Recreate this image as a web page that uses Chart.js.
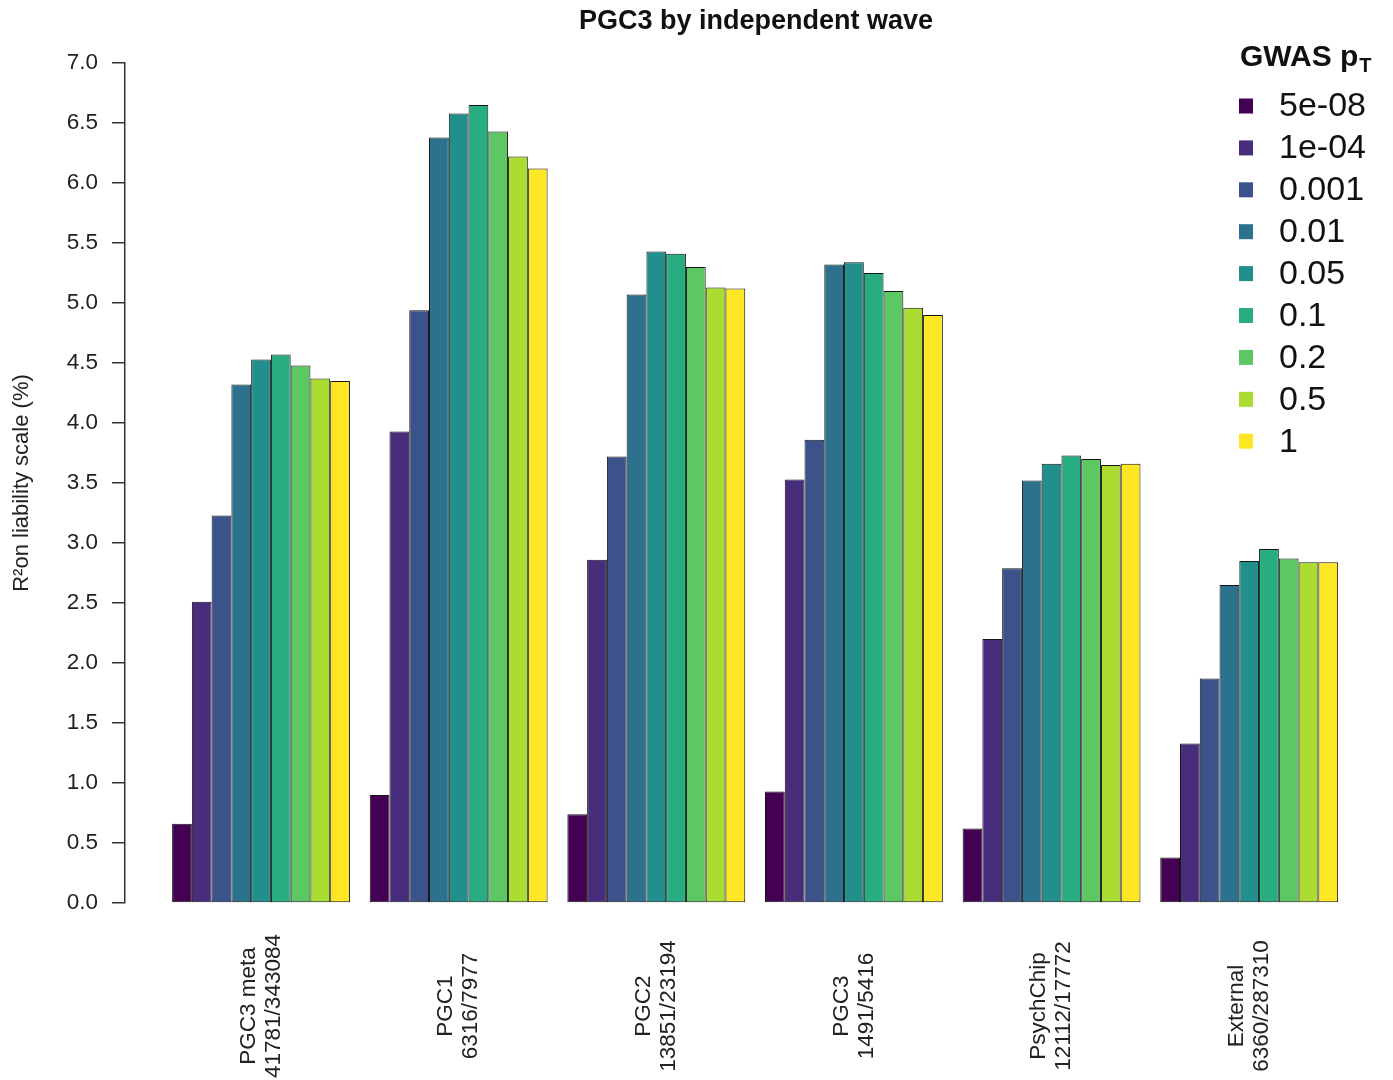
<!DOCTYPE html>
<html>
<head>
<meta charset="utf-8">
<script src="https://cdn.jsdelivr.net/npm/chart.js@4.4.1/dist/chart.umd.min.js"></script>
<style>
    html, body { margin: 0; padding: 0; background: #fff; }
    #wrap { width: 1393px; height: 1080px; }
</style>
</head>
<body>
<div id="wrap"><canvas id="waveChart" width="1393" height="1080"></canvas></div>
<script>
// waves (two label lines each: name, cases/controls)
var wave_names = ['PGC3 meta', 'PGC1', 'PGC2', 'PGC3', 'PsychChip', 'External'];
var wave_counts = ['41781/343084', '6316/7977', '13851/23194', '1491/5416', '12112/17772', '6360/287310'];

// GWAS p-value thresholds and their colours
var thresholds = ['5e-08', '1e-04', '0.001', '0.01', '0.05', '0.1', '0.2', '0.5', '1'];
var colors = ['#440154', '#472D7B', '#3B528B', '#2C728E', '#21908C', '#27AD81', '#5DC863', '#AADC32', '#FDE725'];

// R2 on liability scale (%), one array per threshold, in wave order
var r2_5e08 = [0.66, 0.90, 0.74, 0.93, 0.62, 0.38];
var r2_1e04 = [2.51, 3.93, 2.86, 3.53, 2.20, 1.33];
var r2_0001 = [3.23, 4.94, 3.72, 3.86, 2.79, 1.87];
var r2_001  = [4.32, 6.38, 5.07, 5.32, 3.52, 2.65];
var r2_005  = [4.53, 6.58, 5.43, 5.34, 3.66, 2.85];
var r2_01   = [4.57, 6.65, 5.41, 5.25, 3.73, 2.95];
var r2_02   = [4.48, 6.43, 5.30, 5.10, 3.70, 2.87];
var r2_05   = [4.37, 6.22, 5.13, 4.96, 3.65, 2.84];
var r2_1    = [4.35, 6.12, 5.12, 4.90, 3.66, 2.84];

var series = [r2_5e08, r2_1e04, r2_0001, r2_001, r2_005, r2_01, r2_02, r2_05, r2_1];

var y_ticks = [0, 0.5, 1, 1.5, 2, 2.5, 3, 3.5, 4, 4.5, 5, 5.5, 6, 6.5, 7];

Chart.defaults.font.family = "'Liberation Sans', Arial, sans-serif";
Chart.defaults.color = '#222';

var datasets = series.map(function(vals, k){
    return {
        label: thresholds[k],
        data: vals.map(function(v, i){ return {x: i + 1, y: v}; }),
        backgroundColor: colors[k],
        borderColor: '#151515',
        borderWidth: 1,
        borderSkipped: false,
        categoryPercentage: 0.9,
        barPercentage: 1
    };
});

// title, legend and the two-line wave labels, drawn the R way
var decorations = {
    id: 'decorations',
    afterDraw: function(chart){
        var ctx = chart.ctx;
        var xs = chart.scales.x;
        ctx.save();

        // title
        ctx.fillStyle = '#111';
        ctx.font = "bold 27px 'Liberation Sans', Arial, sans-serif";
        ctx.textAlign = 'center';
        ctx.textBaseline = 'middle';
        ctx.fillText('PGC3 by independent wave', 756, 22);

        // wave labels, rotated, lines centred
        ctx.font = "22.5px 'Liberation Sans', Arial, sans-serif";
        ctx.fillStyle = '#222';
        for (var i = 0; i < wave_names.length; i++) {
            var px = xs.getPixelForValue(i + 1);
            ctx.save();
            ctx.translate(px, 1006);
            ctx.rotate(-Math.PI / 2);
            ctx.textAlign = 'center';
            ctx.textBaseline = 'middle';
            ctx.fillText(wave_names[i], 0, -12.5);
            ctx.fillText(wave_counts[i], 0, 12.5);
            ctx.restore();
        }

        // legend
        ctx.textAlign = 'left';
        ctx.textBaseline = 'alphabetic';
        ctx.fillStyle = '#111';
        ctx.font = "bold 30px 'Liberation Sans', Arial, sans-serif";
        ctx.fillText('GWAS p', 1240, 66);
        var w = ctx.measureText('GWAS p').width;
        ctx.font = "bold 20px 'Liberation Sans', Arial, sans-serif";
        ctx.fillText('T', 1240 + w + 1, 72);

        ctx.font = "34px 'Liberation Sans', Arial, sans-serif";
        ctx.textBaseline = 'middle';
        chart.data.datasets.forEach(function(ds, k){
            var cy = 106 + k * 41.9;
            ctx.fillStyle = ds.backgroundColor;
            ctx.fillRect(1239, cy - 7.5, 14, 15);
            ctx.fillStyle = '#111';
            ctx.fillText(ds.label, 1279, cy + 1);
        });
        ctx.restore();
    }
};

new Chart(document.getElementById('waveChart'), {
    type: 'bar',
    data: { datasets: datasets },
    options: {
        responsive: false,
        animation: false,
        layout: { padding: { top: 63, bottom: 177, left: 0, right: 45 } },
        plugins: {
            legend: { display: false },
            title: { display: false },
            tooltip: { enabled: false }
        },
        scales: {
            x: {
                type: 'linear',
                display: false,
                offset: false,
                grid: { offset: false },
                min: 0.3117,
                max: 6.5,
                afterBuildTicks: function(scale){
                    scale.ticks = wave_names.map(function(n, i){ return {value: i + 1}; });
                }
            },
            y: {
                min: 0,
                max: 7,
                afterFit: function(scale){ scale.width = 125; },
                afterBuildTicks: function(scale){
                    scale.ticks = y_ticks.map(function(v){ return {value: v}; });
                },
                ticks: {
                    padding: 14,
                    font: { size: 22.5 },
                    color: '#222',
                    callback: function(v){ return Number(v).toFixed(1); }
                },
                grid: {
                    drawOnChartArea: false,
                    drawTicks: true,
                    tickLength: 13,
                    color: '#333',
                    lineWidth: 1.5
                },
                border: { display: true, color: '#333', width: 1.5 },
                title: {
                    display: true,
                    text: 'R\u00B2on liability scale (%)',
                    font: { size: 22 },
                    color: '#222',
                    padding: { top: 9, bottom: 0 }
                }
            }
        }
    },
    plugins: [decorations]
});
</script>
</body>
</html>
